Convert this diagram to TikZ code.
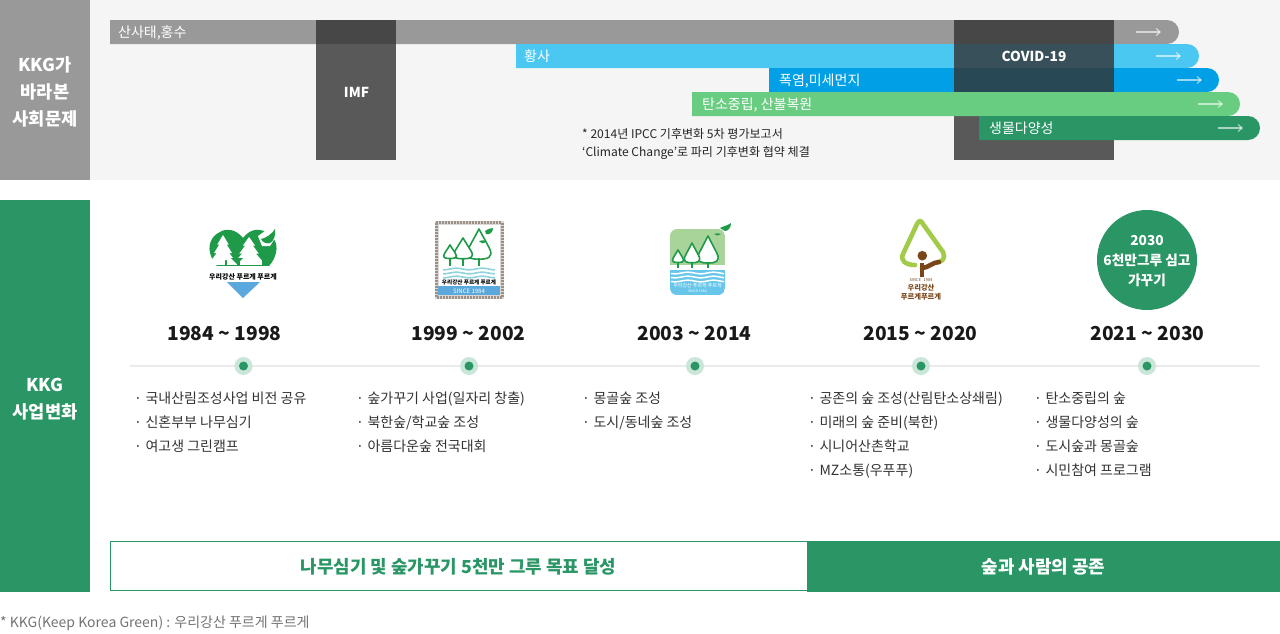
\documentclass[tikz,border=0pt]{standalone}
\usepackage{fontspec}
\setmainfont{Noto Sans CJK KR}
\usetikzlibrary{arrows.meta}
\definecolor{kgreen}{HTML}{2A9565}
\definecolor{kgray}{HTML}{999999}
\definecolor{kbg}{HTML}{F5F5F5}
\definecolor{ksky}{HTML}{4BC8F2}
\definecolor{kblue}{HTML}{009FE6}
\definecolor{klight}{HTML}{68CD80}
\definecolor{ktext}{HTML}{333333}
\definecolor{kdot}{HTML}{C9E6D9}
\definecolor{logogreen}{HTML}{1E9A48}
\definecolor{logoblue}{HTML}{5BA8DC}
\definecolor{logowater}{HTML}{8FD3DC}
\definecolor{logosky}{HTML}{68C6EA}
\definecolor{logopale}{HTML}{A8D49A}
\definecolor{logolime}{HTML}{A2CB4A}
\definecolor{logobrown}{HTML}{7A4518}
\definecolor{stampgray}{HTML}{9A9088}
\newcommand{\fs}[1]{\fontsize{#1}{#1}\selectfont}
\newcommand{\timebar}[4]{\fill[#4] (#1,#3) -- ({#2-12},#3) arc[start angle=-90,end angle=90,radius=12] -- (#1,{#3+24}) -- cycle;}
\newcommand{\unittree}[4]{\begin{scope}[shift={(#1,#3)},xscale=#4,yscale={#3-#2}]
  \path[treeline] (0,-1) -- (0.72,-0.36) .. controls (1.12,0) and (0.55,0.04) .. (0,0.04) .. controls (-0.55,0.04) and (-1.12,0) .. (-0.72,-0.36) -- cycle;
\end{scope}}
\newcommand{\pinetree}[4]{\begin{scope}[shift={(#1,#3)},xscale=#4,yscale={#3-#2}]
  \fill[white] (0,-1) -- (0.5,-0.62) -- (0.32,-0.62) -- (0.78,-0.28) -- (0.55,-0.28) -- (1,0) -- (-1,0) -- (-0.55,-0.28) -- (-0.78,-0.28) -- (-0.32,-0.62) -- (-0.5,-0.62) -- cycle;
\end{scope}}
\tikzset{
  lbl/.style={inner sep=0,anchor=base west,text=white,font=\fs{14}},
  ctr/.style={inner sep=0,anchor=base,text=white,font=\fs{13.7}\bfseries},
  side/.style={inner sep=0,anchor=base,text=white,font=\fs{17.6}\bfseries},
  head/.style={inner sep=0,anchor=base,text=black!90,font=\fs{19.2}\bfseries},
  item/.style={inner sep=0,anchor=base west,text=ktext,font=\fs{14}},
  note/.style={inner sep=0,anchor=base west,text=black!85,font=\fs{12.05}},
  goon/.style={white,opacity=.6,line width=1.2pt,-{Straight Barb[length=4pt,width=7pt]}},
  era/.style={inner sep=0,anchor=base,font=\fs{17.9}\bfseries},
  treeline/.style={draw=logogreen,line width=1.6pt,fill=white,line join=round},
  tiny/.style={inner sep=0,anchor=base,font=\fs{7}\bfseries},
}
\begin{document}
\begin{tikzpicture}[x=1pt,y=-1pt]
\useasboundingbox (0,0) rectangle (1280,633);
\fill[white] (0,0) rectangle (1280,633);
% top band
\fill[kbg] (90,0) rectangle (1280,180);
\fill[kgray] (0,0) rectangle (90,180);
\fill[kgreen] (0,200) rectangle (90,592);
\node[side] (s1) at (45,71) {KKG가};
\node[side] (s2) at (45,98) {바라본};
\node[side] (s3) at (45,125) {사회문제};
\node[side] (g1) at (45,391) {KKG};
\node[side] (g2) at (45,418) {사업변화};
% bars
\timebar{110}{1179}{20}{kgray}
\timebar{516}{1199}{44}{ksky}
\timebar{769}{1219}{68}{kblue}
\fill[black!80,opacity=.8] (316,20) rectangle (396,160);
\fill[black!80,opacity=.8] (954,20) rectangle (1114,160);
\timebar{692}{1240}{92}{klight}
\timebar{979}{1260}{116}{kgreen}
\node[lbl] (b1) at (118,37) {산사태,홍수};
\node[lbl] (b2) at (524,61) {황사};
\node[lbl] (b3) at (779,85) {폭염,미세먼지};
\node[lbl] (b4) at (702,109) {탄소중립, 산불복원};
\node[lbl] (b5) at (989,133) {생물다양성};
\node[ctr] (imf) at (356.5,97.5) {IMF};
\node[ctr] (cov) at (1034,61.5) {COVID-19};
\foreach \n/\xa/\ya in {1/1136/32,2/1156/56,3/1177/80,4/1198/104,5/1218/128}{
  \coordinate (a\n s) at (\xa,\ya);
  \coordinate (a\n e) at ({\xa+25},\ya);
  \draw[goon] (a\n s) -- (a\n e);
}
\node[note] (n1) at (582,138) {* 2014년 IPCC 기후변화 5차 평가보고서};
\node[note] (n2) at (582,156) {‘Climate Change’로 파리 기후변화 협약 체결};
% logo 1
\begin{scope}
  \clip (200,225) rectangle (285,265);
  \fill[logogreen] (243,238) .. controls (236,229) and (226,228) .. (220,232) .. controls (211,236) and (207,246) .. (211,256) .. controls (214,265) and (222,272) .. (243,290) .. controls (264,272) and (272,265) .. (275,256) .. controls (279,246) and (275,236) .. (266,232) .. controls (258,228) and (250,229) .. (243,238) -- cycle;
\end{scope}
\pinetree{223}{235}{260}{11.5}
\pinetree{249}{237}{260}{12.5}
\fill[white] (213,260) rectangle (225,265);
\fill[white] (227,260) rectangle (237,265);
\fill[white] (240,260) rectangle (262,265);
\fill[logogreen] (231,258) -- (243,258) -- (237,264) -- cycle;
\fill[white] (258,236) -- (272,226) -- (279,232) -- (270,246) -- (262,246) -- cycle;
\fill[logogreen] (261,239) .. controls (266,238) and (272,234) .. (275,229) .. controls (276,235) and (274,241) .. (270,243) .. controls (267,244) and (263,243) .. (261,239) -- cycle;
\node[tiny,text=black] (t1) at (243,279) {우리강산 푸르게 푸르게};
\fill[logoblue] (227,282) -- (260,282) -- (243,298) -- cycle;
% logo 2
\fill[stampgray!35] (434.5,221) rectangle (503.5,298.5);
\draw[stampgray,line width=3pt,dash pattern=on 2pt off 1pt] (436,222.5) rectangle (502,297);
\fill[white] (438.5,225) rectangle (499.5,294.5);
\unittree{479}{229}{258}{14}
\unittree{463}{238}{258}{11}
\unittree{450}{245}{258}{7.5}
\foreach \tx in {450,463,479}{\draw[logogreen,line width=1.6pt] (\tx,258) -- (\tx,266);}
\fill[logogreen] (485,231) .. controls (488,229) and (491,228) .. (493,228) .. controls (493,232) and (490,235) .. (486,234) -- cycle;
\fill[logogreen] (479,241) .. controls (482,240) and (484,240) .. (486,241) .. controls (484,244) and (482,244) .. (479,241) -- cycle;
\foreach \wy in {269,273,277}{\draw[logowater,line width=1.6pt,domain=443:495,samples=40] plot (\x,{\wy+0.8*sin(\x*14)});}
\node[tiny,font=\fs{5.6}\bfseries,text=black] (t2) at (469,284) {우리강산 푸르게 푸르게};
\fill[logoblue] (438,286) rectangle (500,295);
\node[inner sep=0,anchor=base,text=white,font=\fs{6}] (t2b) at (469,293) {SINCE 1984};
% logo 3
\begin{scope}
  \clip[rounded corners=7pt] (670,229) rectangle (725,295);
  \fill[logopale] (670,229) rectangle (725,265);
  \fill[white] (670,265) rectangle (725,270);
  \fill[logosky] (670,270) rectangle (725,295);
\end{scope}
\unittree{708}{236}{262}{12}
\unittree{692}{243}{262}{9}
\unittree{678}{250}{262}{6.5}
\foreach \tx in {678,692,708}{\draw[logogreen,line width=1.6pt] (\tx,262) -- (\tx,268);}
\foreach \wy in {273,277,281}{\draw[white,line width=1.5pt,domain=671:724,samples=40] plot (\x,{\wy+0.8*sin(\x*14)});}
\node[inner sep=0,anchor=base,text=white,font=\fs{5}] (t3) at (697.5,287) {우리강산 푸르게 푸르게};
\node[inner sep=0,anchor=base,text=white,font=\fs{3.5}] (t3b) at (697.5,292.5) {SINCE 1984};
\fill[logogreen] (720,228) .. controls (723,226) and (727,226) .. (731,223) .. controls (731,228) and (728,231) .. (725,231) -- cycle;
\fill[logogreen] (714,234) .. controls (716,233) and (719,233) .. (721,234) .. controls (719,236) and (716,236) .. (714,234) -- cycle;
% logo 4
\draw[logolime,line width=4.6pt,line cap=round,line join=round] (915,265) .. controls (905,265) and (900,260) .. (903,254) -- (917,224) .. controls (919,220) and (921,220) .. (923,224) -- (943,252) .. controls (946,258) and (942,262) .. (938,262);
\fill[logobrown] (922.3,255.7) circle (4.8);
\draw[logobrown,line width=4.6pt] (922,263) -- (922,277);
\draw[logobrown,line width=4.6pt,line cap=round] (922,268) .. controls (928,268) and (933,262) .. (939,262);
\node[inner sep=0,anchor=base,text=logobrown,font=\fs{4}] (t4a) at (921,281) {SINCE \ \ 1984};
\node[inner sep=0,anchor=base,text=logobrown,font=\fs{7.3}\bfseries] (t4b) at (921,290) {우리강산};
\node[inner sep=0,anchor=base,text=logobrown,font=\fs{7.3}\bfseries] (t4c) at (921,299) {푸르게푸르게};
% circle
\fill[kgreen] (1147,260) circle (50);
\node[ctr] (c1) at (1147,245) {2030};
\node[ctr] (c2) at (1147,265) {6천만그루 심고};
\node[ctr] (c3) at (1147,285) {가꾸기};
% headings
\node[head] (h1) at (224.5,340) {1984 \textasciitilde{} 1998};
\node[head] (h2) at (468.5,340) {1999 \textasciitilde{} 2002};
\node[head] (h3) at (694.5,340) {2003 \textasciitilde{} 2014};
\node[head] (h4) at (920.5,340) {2015 \textasciitilde{} 2020};
\node[head] (h5) at (1147.5,340) {2021 \textasciitilde{} 2030};
% timeline
\coordinate (tl) at (130,366);
\coordinate (tr) at (1260,366);
\draw[black!8,line width=2pt] (tl) -- (tr);
\foreach \n/\dx in {1/243.5,2/469,3/695,4/921,5/1147}{
  \fill[kdot] (\dx,366) circle (9);
  \fill[kgreen] (\dx,366) circle (4.5);
}
% lists
\foreach \lx/\ly/\lt in {
  134/403/{·\hspace{3.5pt}국내산림조성사업 비전 공유},134/427/{·\hspace{3.5pt}신혼부부 나무심기},134/451/{·\hspace{3.5pt}여고생 그린캠프},
  356/403/{·\hspace{3.5pt}숲가꾸기 사업(일자리 창출)},356/427/{·\hspace{3.5pt}북한숲/학교숲 조성},356/451/{·\hspace{3.5pt}아름다운숲 전국대회},
  582/403/{·\hspace{3.5pt}몽골숲 조성},582/427/{·\hspace{3.5pt}도시/동네숲 조성},
  808/403/{·\hspace{3.5pt}공존의 숲 조성(산림탄소상쇄림)},808/427/{·\hspace{3.5pt}미래의 숲 준비(북한)},808/451/{·\hspace{3.5pt}시니어산촌학교},808/475/{·\hspace{3.5pt}MZ소통(우푸푸)},
  1034/403/{·\hspace{3.5pt}탄소중립의 숲},1034/427/{·\hspace{3.5pt}생물다양성의 숲},1034/451/{·\hspace{3.5pt}도시숲과 몽골숲},1034/475/{·\hspace{3.5pt}시민참여 프로그램}}{
  \node[item] at (\lx,\ly) {\lt};
}
% bottom
\draw[kgreen,line width=1pt] (110.5,541.5) rectangle (807,590.5);
\fill[kgreen] (807,541) rectangle (1280,592);
\node[era,text=kgreen] (e1) at (458.5,573) {나무심기 및 숲가꾸기 5천만 그루 목표 달성};
\node[era,text=white] (e2) at (1043.5,573) {숲과 사람의 공존};
\node[inner sep=0,anchor=base west,text=black!55,font=\fs{14}] (foot) at (0,627) {* KKG(Keep Korea Green) : 우리강산 푸르게 푸르게};
\end{tikzpicture}
\end{document}
